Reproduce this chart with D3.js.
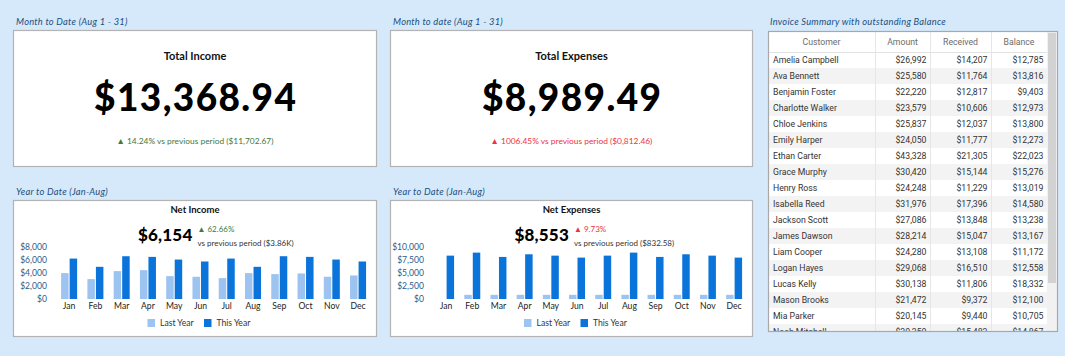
<!DOCTYPE html>
<html><head><meta charset="utf-8">
<script src="https://cdn.jsdelivr.net/npm/d3@7"></script>
<style>
html,body{margin:0;padding:0;background:#d5e9fb;}
svg{display:block;}
</style></head><body>
<svg id="c" width="1065" height="356"></svg>
<script>
// ---------- data ----------
const months = ["Jan","Feb","Mar","Apr","May","Jun","Jul","Aug","Sep","Oct","Nov","Dec"];
const seriesNames = ["Last Year","This Year"];
const incomeLastYear = [3980,3060,4290,4440,3520,3420,3210,3980,3830,3930,3420,3620];
const incomeThisYear = [6220,4950,6580,6480,6070,5770,6220,4950,6580,6480,6070,5770];
const expenseLastYear = [0,800,800,800,800,800,800,800,800,800,800,800];
const expenseThisYear = [8340,8920,8090,8600,8340,7960,8340,8920,8090,8600,8340,7960];
const incomeTicks = [0,2000,4000,6000,8000];
const expenseTicks = [0,2500,5000,7500,10000];

const panelLabels = ["Month to Date (Aug 1 - 31)","Month to date (Aug 1 - 31)","Year to Date (Jan-Aug)","Year to Date (Jan-Aug)","Invoice Summary with outstanding Balance"];
const kpiTitles = ["Total Income","Total Expenses"];
const kpiValues = ["$13,368.94","$8,989.49"];
const kpiChanges = ["\u25B2 14.24% vs previous period ($11,702.67)","\u25B2 1006.45% vs previous period ($0,812.46)"];
const chartTitles = ["Net Income","Net Expenses"];
const chartValues = ["$6,154","$8,553"];
const chartChanges = ["\u25B2 62.66%","\u25B2 9.73%"];
const chartPrevious = ["vs previous period ($3.86K)","vs previous period ($832.58)"];

const tableColumns = ["Customer","Amount","Received","Balance"];
const customers = ["Amelia Campbell","Ava Bennett","Benjamin Foster","Charlotte Walker","Chloe Jenkins","Emily Harper","Ethan Carter","Grace Murphy","Henry Ross","Isabella Reed","Jackson Scott","James Dawson","Liam Cooper","Logan Hayes","Lucas Kelly","Mason Brooks","Mia Parker","Noah Mitchell"];
const amounts = [26992,25580,22220,23579,25837,24050,43328,30420,24248,31976,27086,28214,24280,29068,30138,21472,20145,30350];
const received = [14207,11764,12817,10606,12037,11777,21305,15144,11229,17396,13848,15047,13108,16510,11806,9372,9440,15483];
const balances = [12785,13816,9403,12973,13800,12273,22023,15276,13019,14580,13238,13167,11172,12558,18332,12100,10705,14867];

// ---------- styling ----------
const FONT = "Lato, 'Open Sans', sans-serif";
const TFONT = "Roboto, sans-serif";
const GREEN = "#457838", RED = "#ee3340", LABEL = "#1c4f7e", AXIS = "#2b5d8c";
const COLORS = ["#9dc3f1","#0a74da"];

const svg = d3.select("#c");

function panel(x,y,w,h){
  svg.append("rect").attr("x",x+0.5).attr("y",y+0.5).attr("width",w).attr("height",h)
    .attr("fill","#fff").attr("stroke","#b3b3b3").attr("stroke-width",1.2);
}
function label(x,y,t){
  svg.append("text").attr("x",x).attr("y",y).text(t)
    .attr("font-family",FONT).attr("font-style","italic").attr("font-size",9.3)
    .attr("letter-spacing",0.25).attr("fill",LABEL);
}

// panel labels
[[16,25],[393,25],[16,195],[393,195],[770,25]].forEach((p,i)=>label(p[0],p[1],panelLabels[i]));

// ---------- KPI panels ----------
const kpiBoxes = [[13,30,363,136],[390,30,362,136]];
kpiBoxes.forEach((b,i)=>{
  panel(...b);
  const cx = b[0]+b[2]/2+0.5;
  svg.append("text").attr("x",cx).attr("y",60).attr("text-anchor","middle")
    .attr("font-family",FONT).attr("font-weight",700).attr("font-size",11).attr("fill","#111").text(kpiTitles[i]);
  svg.append("text").attr("x",cx+0.7).attr("y",111).attr("text-anchor","middle")
    .attr("font-family",FONT).attr("font-weight",900).attr("font-size",37).attr("letter-spacing",1.4)
    .attr("fill","#000").text(kpiValues[i]);
  svg.append("text").attr("x",cx).attr("y",143.5).attr("text-anchor","middle")
    .attr("font-family",FONT).attr("font-size",8.4).attr("fill",i===0?GREEN:RED).text(kpiChanges[i]);
});

// ---------- bar charts ----------
function barChart(box, lastYear, thisYear, ticks, idx){
  panel(...box);
  const [bx,by,bw,bh] = box;
  const cx = bx + bw/2 + 0.5;
  const left = bx + 43, right = bx + bw - 4.8;
  const y0 = 299, y1 = 247;
  svg.append("text").attr("x",cx).attr("y",212.5).attr("text-anchor","middle")
    .attr("font-family",FONT).attr("font-weight",700).attr("font-size",9.5).attr("fill","#111").text(chartTitles[idx]);
  svg.append("text").attr("x",cx-2.5).attr("y",240.5).attr("text-anchor","end")
    .attr("font-family",FONT).attr("font-weight",900).attr("font-size",17).attr("letter-spacing",0.2)
    .attr("fill","#000").text(chartValues[idx]);
  svg.append("text").attr("x",cx+2.5).attr("y",232).attr("font-family",FONT).attr("font-size",8)
    .attr("fill",idx===0?GREEN:RED).text(chartChanges[idx]);
  svg.append("text").attr("x",cx+2.5).attr("y",245.5).attr("font-family",FONT).attr("font-size",8)
    .attr("fill","#333").text(chartPrevious[idx]);

  const x = d3.scaleBand().domain(months).range([left,right]).paddingInner(0.39).paddingOuter(0.195);
  const xs = d3.scaleBand().domain(seriesNames).range([0,x.bandwidth()]).paddingInner(0.12);
  const y = d3.scaleLinear().domain([0,ticks[ticks.length-1]]).range([y0,y1]);

  const g = svg.append("g");
  const data = months.map((m,i)=>({m, vals:[lastYear[i],thisYear[i]]}));
  g.selectAll("g.grp").data(data).join("g").attr("class","grp")
    .attr("transform",d=>`translate(${x(d.m)},0)`)
    .selectAll("rect").data(d=>d.vals.map((v,j)=>({v,s:seriesNames[j],j})))
    .join("rect")
    .attr("x",d=>xs(d.s)).attr("width",xs.bandwidth())
    .attr("y",d=>y(d.v)).attr("height",d=>y0-y(d.v))
    .attr("fill",d=>COLORS[d.j]);

  const ya = svg.append("g").attr("transform",`translate(${left},0)`)
    .call(d3.axisLeft(y).tickValues(ticks).tickFormat(d3.format("$,")).tickSize(0).tickPadding(9));
  ya.select(".domain").remove();
  ya.selectAll("text").attr("font-family",FONT).attr("font-size",8.6).attr("fill",AXIS);

  const xa = svg.append("g").attr("transform",`translate(0,${y0})`)
    .call(d3.axisBottom(x).tickSize(0).tickPadding(4));
  xa.select(".domain").remove();
  xa.selectAll("text").attr("font-family",FONT).attr("font-size",8.6).attr("fill","#222");

  // legend
  const lx = cx - 47.5;
  const lg = svg.append("g").attr("transform",`translate(${lx},319)`);
  const items = lg.selectAll("g").data(seriesNames).join("g").attr("transform",(d,i)=>`translate(${i*56.5},0)`);
  items.append("rect").attr("width",7.5).attr("height",8).attr("fill",(d,i)=>COLORS[i]);
  items.append("text").attr("x",12.5).attr("y",7.2).text(d=>d)
    .attr("font-family",FONT).attr("font-size",8.6).attr("fill","#333");
}
barChart([13,200,363,136], incomeLastYear, incomeThisYear, incomeTicks, 0);
barChart([390,200,362,136], expenseLastYear, expenseThisYear, expenseTicks, 1);

// ---------- table ----------
const tX = 768, tY = 31, tW = 289, tH = 300;
const colEdges = [768,875,930,991,1047];
const headH = 21, rowH = 16;
svg.append("rect").attr("x",tX).attr("y",tY).attr("width",tW).attr("height",tH).attr("fill","#fff");
const defs = svg.append("defs");
defs.append("clipPath").attr("id","tclip").append("rect").attr("x",tX).attr("y",tY).attr("width",colEdges[4]-tX).attr("height",tH);
const tg = svg.append("g").attr("clip-path","url(#tclip)");
const fmt = d3.format("$,");
const rows = customers.map((c,i)=>[c, fmt(amounts[i]), fmt(received[i]), fmt(balances[i])]);
const rg = tg.selectAll("g.row").data(rows).join("g").attr("class","row")
  .attr("transform",(d,i)=>`translate(0,${tY+headH+i*rowH})`);
rg.append("rect").attr("x",tX).attr("width",colEdges[4]-tX).attr("height",rowH)
  .attr("fill",(d,i)=>i%2?"#f3f3f3":"#fff");
rg.selectAll("text").data(d=>d).join("text")
  .attr("x",(d,j)=> j===0 ? tX+5 : colEdges[j+1]-3.5)
  .attr("y",11.3)
  .attr("text-anchor",(d,j)=> j===0?"start":"end")
  .attr("font-family",TFONT).attr("font-size",8.7).attr("fill","#333").text(d=>d);
// header
tg.append("rect").attr("x",tX).attr("y",tY).attr("width",colEdges[4]-tX).attr("height",headH).attr("fill","#fff");
tg.selectAll("text.hd").data(tableColumns).join("text").attr("class","hd")
  .attr("x",(d,j)=>(colEdges[j]+colEdges[j+1])/2).attr("y",tY+14)
  .attr("text-anchor","middle").attr("font-family",TFONT).attr("font-size",8.7).attr("fill","#6b6b6b").text(d=>d);
tg.append("line").attr("x1",tX).attr("x2",colEdges[4]).attr("y1",tY+headH+0.5).attr("y2",tY+headH+0.5).attr("stroke","#e2e2e2");
tg.selectAll("line.col").data(colEdges.slice(1,4)).join("line").attr("class","col")
  .attr("x1",d=>d+0.5).attr("x2",d=>d+0.5).attr("y1",tY).attr("y2",tY+tH).attr("stroke","#e6e6e6");
// scrollbar
svg.append("rect").attr("x",1047).attr("y",tY).attr("width",10).attr("height",tH).attr("fill","#f1f1f1");
svg.append("rect").attr("x",1048).attr("y",tY+2).attr("width",8).attr("height",250).attr("fill","#d2d2d2");
svg.append("rect").attr("x",tX+0.5).attr("y",tY+0.5).attr("width",tW).attr("height",tH)
  .attr("fill","none").attr("stroke","#a8a8a8").attr("stroke-width",1.2);
</script>
</body></html>
